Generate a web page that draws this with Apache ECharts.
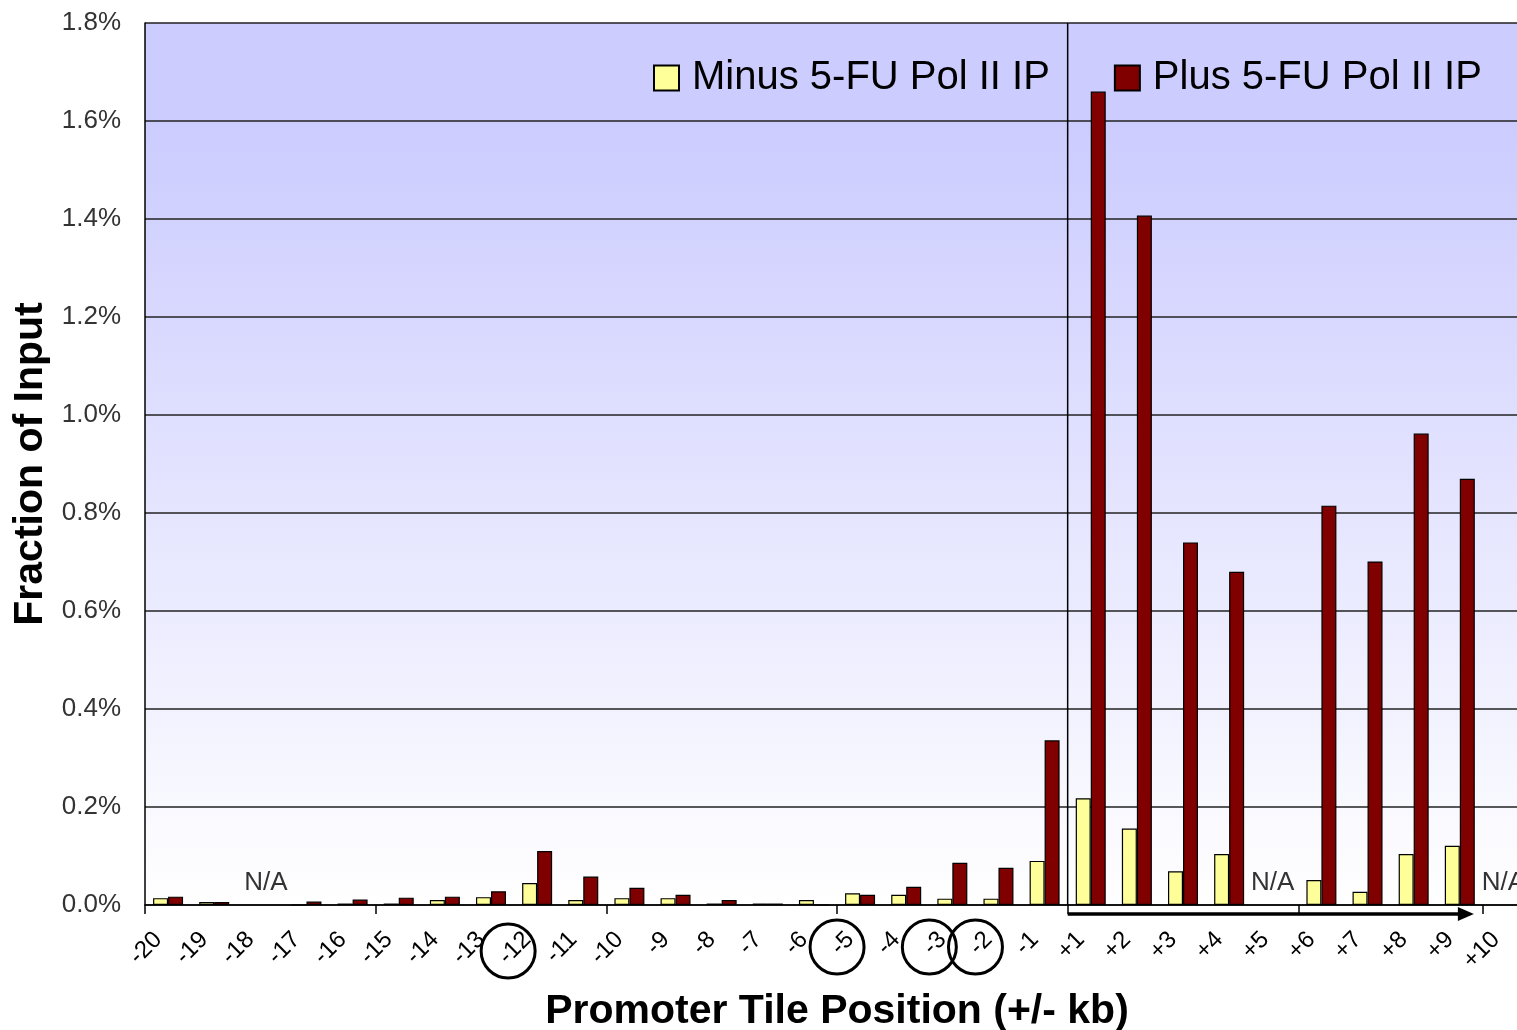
<!DOCTYPE html>
<html>
<head>
<meta charset="utf-8">
<script src="https://cdn.jsdelivr.net/npm/echarts@6/dist/echarts.min.js"></script>
<style>
html,body{margin:0;padding:0;background:#fff;}
#main{width:1517px;height:1030px;}
</style>
</head>
<body>
<div id="main"></div>
<script>
// ---- data ----
const categories = ['-20','-19','-18','-17','-16','-15','-14','-13','-12','-11','-10','-9','-8','-7','-6','-5','-4','-3','-2','-1',
                    '+1','+2','+3','+4','+5','+6','+7','+8','+9','+10'];
const minusValues = [0.014,0.006,null,0,0.003,0.003,0.010,0.016,0.045,0.010,0.014,0.014,0.003,0.003,0.010,0.024,0.021,0.013,0.013,0.090,
                     0.218,0.156,0.069,0.104,null,0.051,0.027,0.104,0.121,null];
const plusValues  = [0.017,0.006,null,0.007,0.011,0.015,0.017,0.028,0.110,0.058,0.035,0.021,0.010,0.003,0,0.021,0.037,0.086,0.076,0.336,
                     1.660,1.407,0.740,0.680,null,0.815,0.701,0.962,0.870,null];
const naCategories = ['-18','+5','+10'];
const circledCategories = ['-12','-5','-3','-2'];
const yTicks = {min:0, max:1.8, interval:0.2};
const seriesNames = ['Minus 5-FU Pol II IP','Plus 5-FU Pol II IP'];

const FONT = "'Liberation Sans', Arial, sans-serif";

const option = {
  animation:false,
  backgroundColor:'#ffffff',
  grid:{
    left:145, top:23, width:1384, height:882,
    containLabel:false, outerBoundsMode:'none',
    show:true, borderWidth:0,
    backgroundColor:{type:'linear',x:0,y:0,x2:0,y2:1,colorStops:[
      {offset:0,color:'#ccccff'},{offset:0.12,color:'#ccccff'},{offset:1,color:'#ffffff'}]}
  },
  legend:{
    left:648, top:53, itemWidth:25, itemHeight:25, itemGap:64,
    icon:'rect',
    textStyle:{fontFamily:FONT, fontSize:40, color:'#000', padding:[0,0,0,8]},
    data:seriesNames
  },
  xAxis:{
    type:'category', data:categories, boundaryGap:true,
    axisLine:{lineStyle:{color:'#000',width:1.5}},
    axisTick:{show:true, interval:4, length:9, lineStyle:{color:'#000',width:1.5}},
    axisLabel:{interval:0, rotate:45, margin:21, padding:[0,14,0,0],
      fontFamily:FONT, fontSize:24, color:'#000'},
    name:'Promoter Tile Position (+/- kb)', nameLocation:'middle', nameGap:86,
    nameTextStyle:{fontFamily:FONT, fontSize:41, fontWeight:'bold', color:'#000'}
  },
  yAxis:{
    type:'value', min:yTicks.min, max:yTicks.max, interval:yTicks.interval,
    axisLine:{show:true, lineStyle:{color:'#000',width:1.5}},
    axisTick:{show:false},
    splitLine:{show:true, lineStyle:{color:'#222',width:1.5}},
    axisLabel:{margin:24, fontFamily:FONT, fontSize:26, color:'#333',
      formatter:v=>v.toFixed(1)+'%'},
    name:'Fraction of Input', nameLocation:'middle', nameGap:85,
    nameTextStyle:{fontFamily:FONT, fontSize:41, fontWeight:'bold', color:'#000'}
  },
  series:[
    {name:seriesNames[0], type:'bar', data:minusValues, barWidth:15, barGap:'0%',
     itemStyle:{color:'#ffff99', borderColor:'#000', borderWidth:1.2},
     markPoint:{
       symbol:'rect', symbolSize:1, itemStyle:{color:'rgba(0,0,0,0)', borderWidth:0},
       label:{show:true, position:'inside', formatter:'N/A', fontFamily:FONT, fontSize:26, color:'#333'},
       data:naCategories.map((c,i)=>({coord:[c,0.045], label:{offset:[i===0?13:5,0]}}))
     }},
    {name:seriesNames[1], type:'bar', data:plusValues, barWidth:15, barGap:'0%',
     itemStyle:{color:'#800000', borderColor:'#000', borderWidth:1.2}}
  ]
};

const chart = echarts.init(document.getElementById('main'));
chart.setOption(option);

function px(cat, v){ return chart.convertToPixel({gridIndex:0}, [cat, v]); }
const pA = px('-1',0), pB = px('+1',0);
const xDiv = (pA[0]+pB[0])/2;
const y0 = pA[1];
const yTop = px('+1', yTicks.max)[1];
const p9 = px('+9',0), p10 = px('+10',0);
const tipX = (p9[0]+p10[0])/2 - 9;
const arrowY = y0 + 9;

const graphics = [
  {type:'line', z:10, shape:{x1:xDiv,y1:yTop,x2:xDiv,y2:y0}, style:{stroke:'#000',lineWidth:1.5}},
  {type:'line', z:10, shape:{x1:xDiv,y1:arrowY,x2:tipX-12,y2:arrowY}, style:{stroke:'#000',lineWidth:3.5}},
  {type:'polygon', z:10, shape:{points:[[tipX-16,arrowY-7],[tipX,arrowY],[tipX-16,arrowY+7]]}, style:{fill:'#000'}}
];
circledCategories.forEach(c=>{
  const p = px(c,0);
  const long = c.length >= 3;
  graphics.push({type:'circle', z:10,
    shape:{cx:p[0] + (long?-29:-23), cy:p[1] + (long?46:42), r:27},
    style:{fill:'none', stroke:'#000', lineWidth:3}});
});
chart.setOption({graphic:graphics});
</script>
</body>
</html>
